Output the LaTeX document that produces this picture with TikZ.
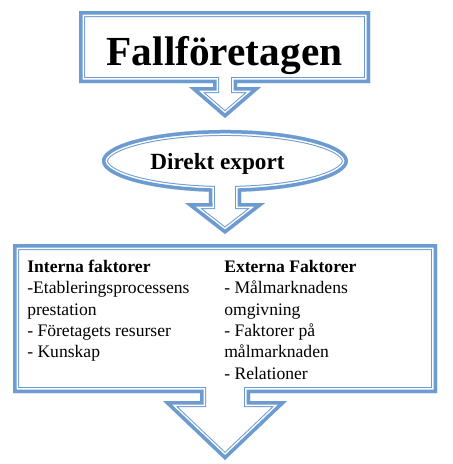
\documentclass[tikz,border=0pt]{standalone}
\usepackage{fontspec}
\setmainfont{Liberation Serif}
\usetikzlibrary{shapes}
\definecolor{wordblue}{RGB}{108,155,210}

% thick-thin border drawn on the inside of a closed path
\newcommand{\thickthin}[1]{%
  \begin{scope}
  \clip #1;
  \draw[wordblue, line width=9pt, line join=miter] #1;
  \draw[white, line width=7.5pt, line join=miter] #1;
  \draw[wordblue, line width=5.25pt, line join=miter] #1;
  \end{scope}}

\begin{document}
\begin{tikzpicture}[x=0.75pt, y=-0.75pt]
\tikzstyle{title}=[font=\bfseries\fontsize{31}{36}\selectfont, inner sep=0]
\tikzstyle{middle}=[font=\bfseries\fontsize{17.4}{20}\selectfont, inner sep=0]
\tikzstyle{column}=[font=\fontsize{13.2}{16}\selectfont, align=left, inner sep=0, anchor=north west]
\useasboundingbox (0,0) rectangle (453,464);

\thickthin{(79,11) -- (370,11) -- (370,83) -- (237,83) -- (237,87) -- (261,87) -- (225,118) -- (189,87) -- (213,87) -- (213,83) -- (79,83) -- cycle}
\thickthin{(241,191.7) arc[start angle=82.5, end angle=-262.5, x radius=123, y radius=31] -- (209,203) -- (185,203) -- (225,234) -- (265,203) -- (241,203) -- cycle}
\thickthin{(13,244) -- (437,244) -- (437,393) -- (250,393) -- (250,401) -- (287,401) -- (225,460) -- (163,401) -- (200,401) -- (200,393) -- (13,393) -- cycle}

\node[title, anchor=base]   (fall)   at (224.5,65) {Fallföretagen};
\node[middle, anchor=base]  (direkt) at (217.5,169) {Direkt export};
\node[column] (interna) at (27,260) {\textbf{Interna faktorer}\\-Etableringsprocessens\\prestation\\- Företagets resurser\\- Kunskap};
\node[column] (externa) at (224,260) {\textbf{Externa Faktorer}\\- Målmarknadens\\omgivning\\- Faktorer på\\målmarknaden\\- Relationer};
\end{tikzpicture}
\end{document}
